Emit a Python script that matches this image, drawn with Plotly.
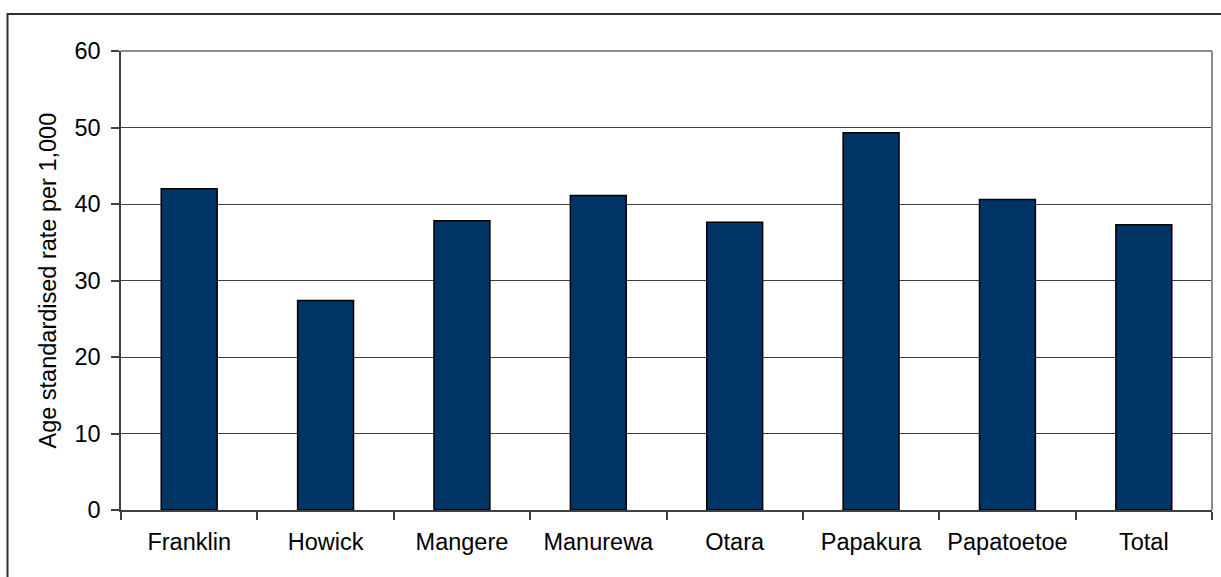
import plotly.graph_objects as go

# Age standardised rates by locality
areas = ["Franklin", "Howick", "Mangere", "Manurewa", "Otara", "Papakura", "Papatoetoe", "Total"]
rates = [42.0, 27.4, 37.8, 41.1, 37.6, 49.3, 40.6, 37.3]
y_ticks = [0, 10, 20, 30, 40, 50, 60]

W, H = 1221, 577
L, R, T, B = 121, 9, 51, 67
pw, ph = W - L - R, H - T - B

font = dict(family="Liberation Sans, Arial, sans-serif", size=23.5, color="black")

fig = go.Figure(
    go.Bar(
        x=areas,
        y=rates,
        marker=dict(color="#003366", line=dict(color="black", width=1.5)),
        width=0.41,
        hoverinfo="x+y",
    )
)

fig.update_layout(
    width=W,
    height=H,
    margin=dict(l=L, r=R, t=T, b=B),
    paper_bgcolor="white",
    plot_bgcolor="white",
    showlegend=False,
    font=font,
    xaxis=dict(
        showgrid=False,
        showline=True,
        linecolor="#404040",
        linewidth=1.5,
        ticks="outside",
        tickson="boundaries",
        ticklen=8,
        tickcolor="#404040",
        tickwidth=1.5,
        ticklabelstandoff=10,
        tickfont=font,
    ),
    yaxis=dict(
        range=[0, 60],
        tickvals=y_ticks,
        showgrid=True,
        gridcolor="#404040",
        gridwidth=1,
        zeroline=False,
        showline=True,
        linecolor="#404040",
        linewidth=1.5,
        ticks="outside",
        ticklen=8,
        tickcolor="#404040",
        tickwidth=1.5,
        ticklabelstandoff=6,
        tickfont=font,
    ),
)

# Plot-area border on top and right
fig.add_shape(type="line", xref="paper", yref="paper", x0=0, x1=1, y0=1, y1=1,
              line=dict(color="#8c8c8c", width=2), layer="above")
fig.add_shape(type="line", xref="paper", yref="paper", x0=1, x1=1, y0=0, y1=1,
              line=dict(color="#8c8c8c", width=2), layer="above")

# Outer chart frame
fx0 = (7.5 - L) / pw
fx1 = (W + 10 - L) / pw
fy1 = (H - B - 14) / ph
fy0 = (H - B - (H + 10)) / ph
fig.add_shape(type="rect", xref="paper", yref="paper", x0=fx0, x1=fx1, y0=fy0, y1=fy1,
              line=dict(color="#303030", width=2), layer="below")

# Axis title
fig.add_annotation(
    text="Age standardised rate per 1,000",
    xref="paper", yref="paper",
    x=(47 - L) / pw, y=0.5,
    xanchor="center", yanchor="middle",
    textangle=-90,
    showarrow=False,
    font=font,
)

fig.write_html("out.html")
